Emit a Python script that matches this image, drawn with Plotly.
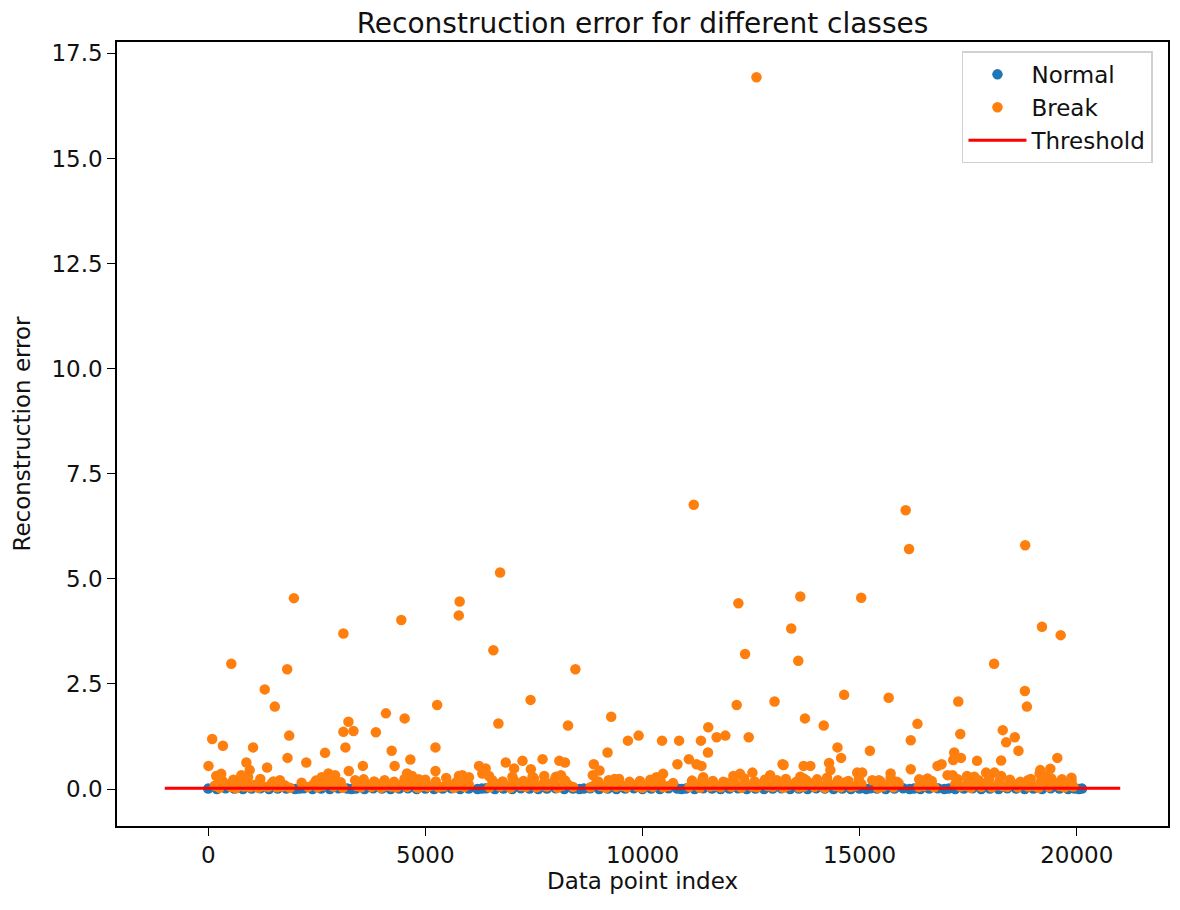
import plotly.graph_objects as go

# ---------------- data ----------------
# Normal class: reconstruction errors hugging zero across the index range
normal_idx = [0, 200, 400, 600, 800, 1000, 1200, 1400, 1600, 1800, 2000, 2100, 2200, 2400,
              2600, 2800, 3000, 3200, 3300, 3400, 3600, 3800, 4000, 4200, 4400, 4600, 4800,
              5000, 5200, 5400, 5600, 5800, 6000, 6200, 6300, 6400, 6600, 6800, 7000, 7200,
              7400, 7600, 7800, 8000, 8200, 8400, 8550, 8650, 8800, 9000, 9200, 9400, 9600,
              9800, 10000, 10200, 10400, 10600, 10800, 10900, 11000, 11200, 11400, 11600,
              11800, 12000, 12200, 12400, 12600, 12800, 13000, 13200, 13400, 13600, 13800,
              14000, 14200, 14400, 14600, 14800, 15000, 15150, 15250, 15400, 15600, 15800,
              16000, 16150, 16250, 16400, 16600, 16800, 16950, 17050, 17200, 17400, 17600,
              17800, 18000, 18200, 18400, 18600, 18800, 19000, 19200, 19400, 19600, 19800,
              19950, 20050, 20120]
normal_err = [0.01, 0.00, 0.02, 0.01, 0.00, 0.01, 0.02, 0.00, 0.01, 0.01, 0.00, 0.01, 0.02, 0.00,
              0.01, 0.00, 0.02, 0.01, 0.00, 0.01, 0.00, 0.02, 0.01, 0.00, 0.01, 0.02, 0.00,
              0.01, 0.00, 0.01, 0.02, 0.00, 0.01, 0.00, 0.01, 0.02, 0.00, 0.01, 0.00, 0.02,
              0.01, 0.00, 0.01, 0.02, 0.00, 0.01, 0.00, 0.01, 0.02, 0.00, 0.01, 0.00, 0.01,
              0.02, 0.00, 0.01, 0.00, 0.02, 0.01, 0.00, 0.01, 0.00, 0.02, 0.01,
              0.00, 0.01, 0.02, 0.00, 0.01, 0.00, 0.01, 0.02, 0.00, 0.01, 0.00,
              0.02, 0.01, 0.00, 0.01, 0.00, 0.01, 0.00, 0.02, 0.01, 0.00, 0.01,
              0.02, 0.00, 0.01, 0.00, 0.01, 0.02, 0.00, 0.01, 0.00, 0.01, 0.02,
              0.00, 0.01, 0.00, 0.02, 0.01, 0.00, 0.01, 0.00, 0.02, 0.01, 0.00,
              0.01, 0.00, 0.01]

# Break class, (index, error) pairs: the scattered high-error points
break_high = [
    (12624, 16.93), (11180, 6.76), (16060, 6.63), (16138, 5.71), (18812, 5.80), (6721, 5.15),
    (13634, 4.58), (15036, 4.55), (1973, 4.54), (5790, 4.46), (5770, 4.13), (12208, 4.42),
    (4446, 4.02), (13425, 3.82), (19198, 3.86), (3113, 3.70), (19629, 3.66), (6566, 3.30),
    (12362, 3.21), (13587, 3.05), (532, 2.98), (18096, 2.98), (1819, 2.85), (8455, 2.85),
    (1302, 2.37), (18805, 2.33), (14643, 2.24), (15668, 2.17), (7422, 2.12), (17271, 2.08),
    (13040, 2.08), (5271, 2.00), (12169, 2.00), (1534, 1.96), (18851, 1.96), (4092, 1.80),
    (9279, 1.72), (4524, 1.68), (13741, 1.68), (3229, 1.60), (6682, 1.56), (16331, 1.55),
    (14173, 1.51), (8285, 1.51), (11514, 1.47), (18295, 1.40), (3345, 1.38), (3113, 1.36),
    (3861, 1.35), (17317, 1.31), (9911, 1.27), (11907, 1.27), (1865, 1.27), (11707, 1.23),
    (12446, 1.23), (18573, 1.23), (92, 1.19), (16177, 1.16), (9664, 1.15), (10450, 1.15),
    (10843, 1.15), (11345, 1.15), (18373, 1.11), (339, 1.03), (1033, 0.99), (3160, 0.99),
    (5233, 0.99), (14490, 0.99), (4224, 0.91), (15236, 0.91), (18657, 0.91), (9195, 0.87),
    (11507, 0.87), (17178, 0.87), (2690, 0.86), (1826, 0.74), (14573, 0.74), (17333, 0.74),
    (19552, 0.74), (11067, 0.71), (7699, 0.71), (4655, 0.70), (17155, 0.69), (17703, 0.67),
    (7237, 0.67), (8085, 0.67), (18258, 0.68), (6851, 0.63), (8215, 0.63), (879, 0.63),
    (2259, 0.63), (14296, 0.62), (8878, 0.59), (10804, 0.59), (11243, 0.59), (13225, 0.59),
    (16886, 0.59), (13248, 0.57), (7, 0.55), (3561, 0.55), (4293, 0.55), (6235, 0.55),
    (11359, 0.55), (13710, 0.55), (13865, 0.55), (16793, 0.55), (1356, 0.51), (6389, 0.49),
    (19390, 0.48), (16177, 0.47), (19159, 0.45), (3237, 0.43), (5233, 0.43), (12531, 0.39),
]

# Break class: the moderately low points just above the dense band
break_mid = [
    (185, 0.31), (300, 0.36), (763, 0.33), (955, 0.45), (918, 0.28), (2767, 0.37), (2921, 0.33),
    (2613, 0.28), (4578, 0.37), (4694, 0.31), (4848, 0.23), (5773, 0.31), (2150, 0.15),
    (3383, 0.21), (5850, 0.33), (6004, 0.28), (6312, 0.37), (6466, 0.31), (7044, 0.49),
    (7005, 0.29), (7429, 0.47), (7468, 0.29), (7738, 0.31), (8007, 0.29), (8123, 0.33),
    (8855, 0.33), (9009, 0.44), (9356, 0.24), (10319, 0.28), (10473, 0.36), (10704, 0.14),
    (11398, 0.28), (12092, 0.31), (12246, 0.36), (12940, 0.33), (13094, 0.21), (13633, 0.29),
    (13710, 0.25), (14249, 0.27), (14326, 0.45), (14943, 0.39), (15059, 0.39), (15290, 0.21),
    (15444, 0.21), (15713, 0.37), (15713, 0.26), (16370, 0.23), (16562, 0.25), (17024, 0.33),
    (17140, 0.33), (17217, 0.14), (17472, 0.31), (17641, 0.29), (17911, 0.39), (18103, 0.39),
    (18258, 0.31), (18874, 0.21), (19145, 0.37), (19260, 0.31), (19414, 0.25), (19645, 0.21),
    (19877, 0.27),
]

# Break class: the dense band of small errors just above zero
break_low = [
    (150, 0.08), (260, 0.03), (420, 0.12), (520, 0.05), (640, 0.02), (700, 0.15), (820, 0.06),
    (960, 0.04), (1080, 0.10), (1150, 0.03), (1250, 0.07), (1380, 0.05), (1460, 0.13),
    (1580, 0.04), (1700, 0.06), (1760, 0.09), (1880, 0.03), (2300, 0.05), (2420, 0.11),
    (2520, 0.04), (2650, 0.08), (2760, 0.17), (2880, 0.06), (2980, 0.12), (3100, 0.03),
    (3420, 0.07), (3520, 0.04), (3640, 0.10), (3760, 0.05), (3880, 0.13), (3980, 0.03),
    (4100, 0.08), (4220, 0.06), (4340, 0.04), (4460, 0.11), (4580, 0.05), (4700, 0.14),
    (4820, 0.03), (4940, 0.07), (5060, 0.05), (5180, 0.09), (5300, 0.04), (5420, 0.06),
    (5540, 0.12), (5660, 0.03), (5780, 0.08), (5900, 0.05), (6000, 0.10), (6480, 0.04),
    (6600, 0.13), (6720, 0.06), (6840, 0.09), (6960, 0.03), (7080, 0.16), (7200, 0.07),
    (7320, 0.05), (7440, 0.12), (7560, 0.04), (7680, 0.09), (7800, 0.06), (7920, 0.14),
    (8040, 0.03), (8160, 0.08), (8280, 0.11), (8400, 0.05), (8800, 0.04), (8920, 0.12),
    (9040, 0.07), (9160, 0.03), (9280, 0.10), (9400, 0.05), (9520, 0.08), (9640, 0.04),
    (9760, 0.11), (9880, 0.06), (10000, 0.03), (10120, 0.09), (10240, 0.05), (10360, 0.13),
    (10480, 0.04), (10600, 0.07), (11080, 0.05), (11200, 0.10), (11320, 0.03), (11440, 0.12),
    (11560, 0.06), (11680, 0.08), (11800, 0.04), (11920, 0.15), (12040, 0.05), (12160, 0.09),
    (12280, 0.03), (12400, 0.11), (12520, 0.06), (12640, 0.04), (12760, 0.13), (12880, 0.07),
    (13000, 0.05), (13120, 0.10), (13240, 0.03), (13360, 0.08), (13480, 0.12), (13600, 0.04),
    (13720, 0.06), (13840, 0.14), (13960, 0.05), (14080, 0.09), (14200, 0.03), (14320, 0.11),
    (14440, 0.07), (14560, 0.04), (14680, 0.16), (14800, 0.05), (14920, 0.08), (15040, 0.12),
    (15420, 0.03), (15540, 0.06), (15660, 0.10), (15780, 0.04), (15900, 0.13), (16360, 0.05),
    (16480, 0.07), (16600, 0.09), (16720, 0.04), (17200, 0.11), (17320, 0.06), (17440, 0.08),
    (17560, 0.03), (17680, 0.12), (17800, 0.05), (17920, 0.15), (18040, 0.04), (18160, 0.09),
    (18280, 0.07), (18400, 0.05), (18520, 0.13), (18640, 0.04), (18760, 0.10), (18880, 0.06),
    (19000, 0.08), (19120, 0.03), (19240, 0.12), (19360, 0.05), (19480, 0.14), (19600, 0.07),
    (19720, 0.04), (19840, 0.09), (19920, 0.06),
]

# Break class: second layer of the dense band (slightly higher small errors)
break_band = [
    (330, 0.19), (580, 0.22), (900, 0.17), (1200, 0.24), (1500, 0.18), (1650, 0.21),
    (2480, 0.20), (2700, 0.25), (2820, 0.19), (3050, 0.16), (3580, 0.23), (3820, 0.18),
    (4060, 0.21), (4280, 0.17), (4520, 0.24), (4760, 0.19), (5000, 0.22), (5240, 0.18),
    (5480, 0.26), (5720, 0.17), (5960, 0.20), (6540, 0.21), (6780, 0.18), (7020, 0.23),
    (7260, 0.19), (7500, 0.25), (7740, 0.17), (7980, 0.22), (8220, 0.20), (8980, 0.18),
    (9220, 0.21), (9460, 0.24), (9700, 0.17), (9940, 0.19), (10180, 0.22), (10420, 0.18),
    (11140, 0.20), (11380, 0.23), (11620, 0.19), (11860, 0.17), (12100, 0.21), (12340, 0.25),
    (12580, 0.18), (12820, 0.22), (13060, 0.19), (13300, 0.24), (13540, 0.17), (13780, 0.20),
    (14020, 0.23), (14260, 0.18), (14500, 0.21), (14740, 0.19), (14980, 0.24), (15480, 0.18),
    (15720, 0.22), (15860, 0.17), (16420, 0.20), (16660, 0.19), (17260, 0.23), (17500, 0.18),
    (17740, 0.21), (17980, 0.25), (18220, 0.19), (18460, 0.22), (18700, 0.17), (18940, 0.24),
    (19180, 0.20), (19420, 0.18), (19660, 0.23), (19880, 0.19),
]

threshold_value = 0.02
threshold_span = [-1000, 21000]

x_ticks = [0, 5000, 10000, 15000, 20000]
x_tick_labels = ["0", "5000", "10000", "15000", "20000"]
y_ticks = [0.0, 2.5, 5.0, 7.5, 10.0, 12.5, 15.0, 17.5]
y_tick_labels = ["0.0", "2.5", "5.0", "7.5", "10.0", "12.5", "15.0", "17.5"]

# ---------------- figure ----------------
FONT = "DejaVu Sans"
BLUE = "#1f77b4"
ORANGE = "#ff7f0e"
TXT = "#111111"
MSIZE = 10.5

# the page body adds an 8px margin, so the figure is sized to fit the window after it
FIG_W, FIG_H = 1172, 902

break_points = break_low + break_band + break_mid + break_high
break_idx = [p[0] for p in break_points]
break_err = [p[1] for p in break_points]

fig = go.Figure()
fig.add_trace(go.Scatter(
    x=normal_idx, y=normal_err, mode="markers", name="Normal",
    marker=dict(color=BLUE, size=MSIZE, line=dict(width=0)),
))
fig.add_trace(go.Scatter(
    x=break_idx, y=break_err, mode="markers", name="Break",
    marker=dict(color=ORANGE, size=MSIZE, line=dict(width=0)),
))
fig.add_trace(go.Scatter(
    x=threshold_span, y=[threshold_value, threshold_value], mode="lines", name="Threshold",
    line=dict(color="#ff0000", width=3),
))

axis_common = dict(
    showgrid=False, zeroline=False, automargin=False,
    showline=True, mirror=True, linecolor="black", linewidth=1.5,
    ticks="outside", ticklen=8, tickwidth=1.4, tickcolor="black",
    tickfont=dict(family=FONT, size=23, color=TXT),
)

fig.update_layout(
    width=FIG_W, height=FIG_H,
    margin=dict(l=109, r=12, t=34, b=84),
    paper_bgcolor="white", plot_bgcolor="white",
    font=dict(family=FONT, color=TXT),
    title=dict(text="Reconstruction error for different classes",
               x=(642.5 - 8) / FIG_W, xanchor="center",
               y=1 - 15 / FIG_H, yanchor="middle", yref="container",
               font=dict(family=FONT, size=28, color=TXT)),
    xaxis=dict(range=[-2100, 22100], tickvals=x_ticks, ticktext=x_tick_labels,
               title=dict(text="Data point index", standoff=6,
                          font=dict(family=FONT, size=23, color=TXT)),
               **axis_common),
    yaxis=dict(range=[-0.88, 17.77], tickvals=y_ticks, ticktext=y_tick_labels,
               title=dict(text="Reconstruction error", standoff=14,
                          font=dict(family=FONT, size=23, color=TXT)),
               **axis_common),
    legend=dict(x=0.9857, y=0.988, xanchor="right", yanchor="top",
                bgcolor="rgba(255,255,255,0.8)", bordercolor="#d0d0d0", borderwidth=1.5,
                font=dict(family=FONT, size=23, color=TXT),
                itemwidth=58, tracegroupgap=0),
    showlegend=True,
)

fig.write_html("out.html")
